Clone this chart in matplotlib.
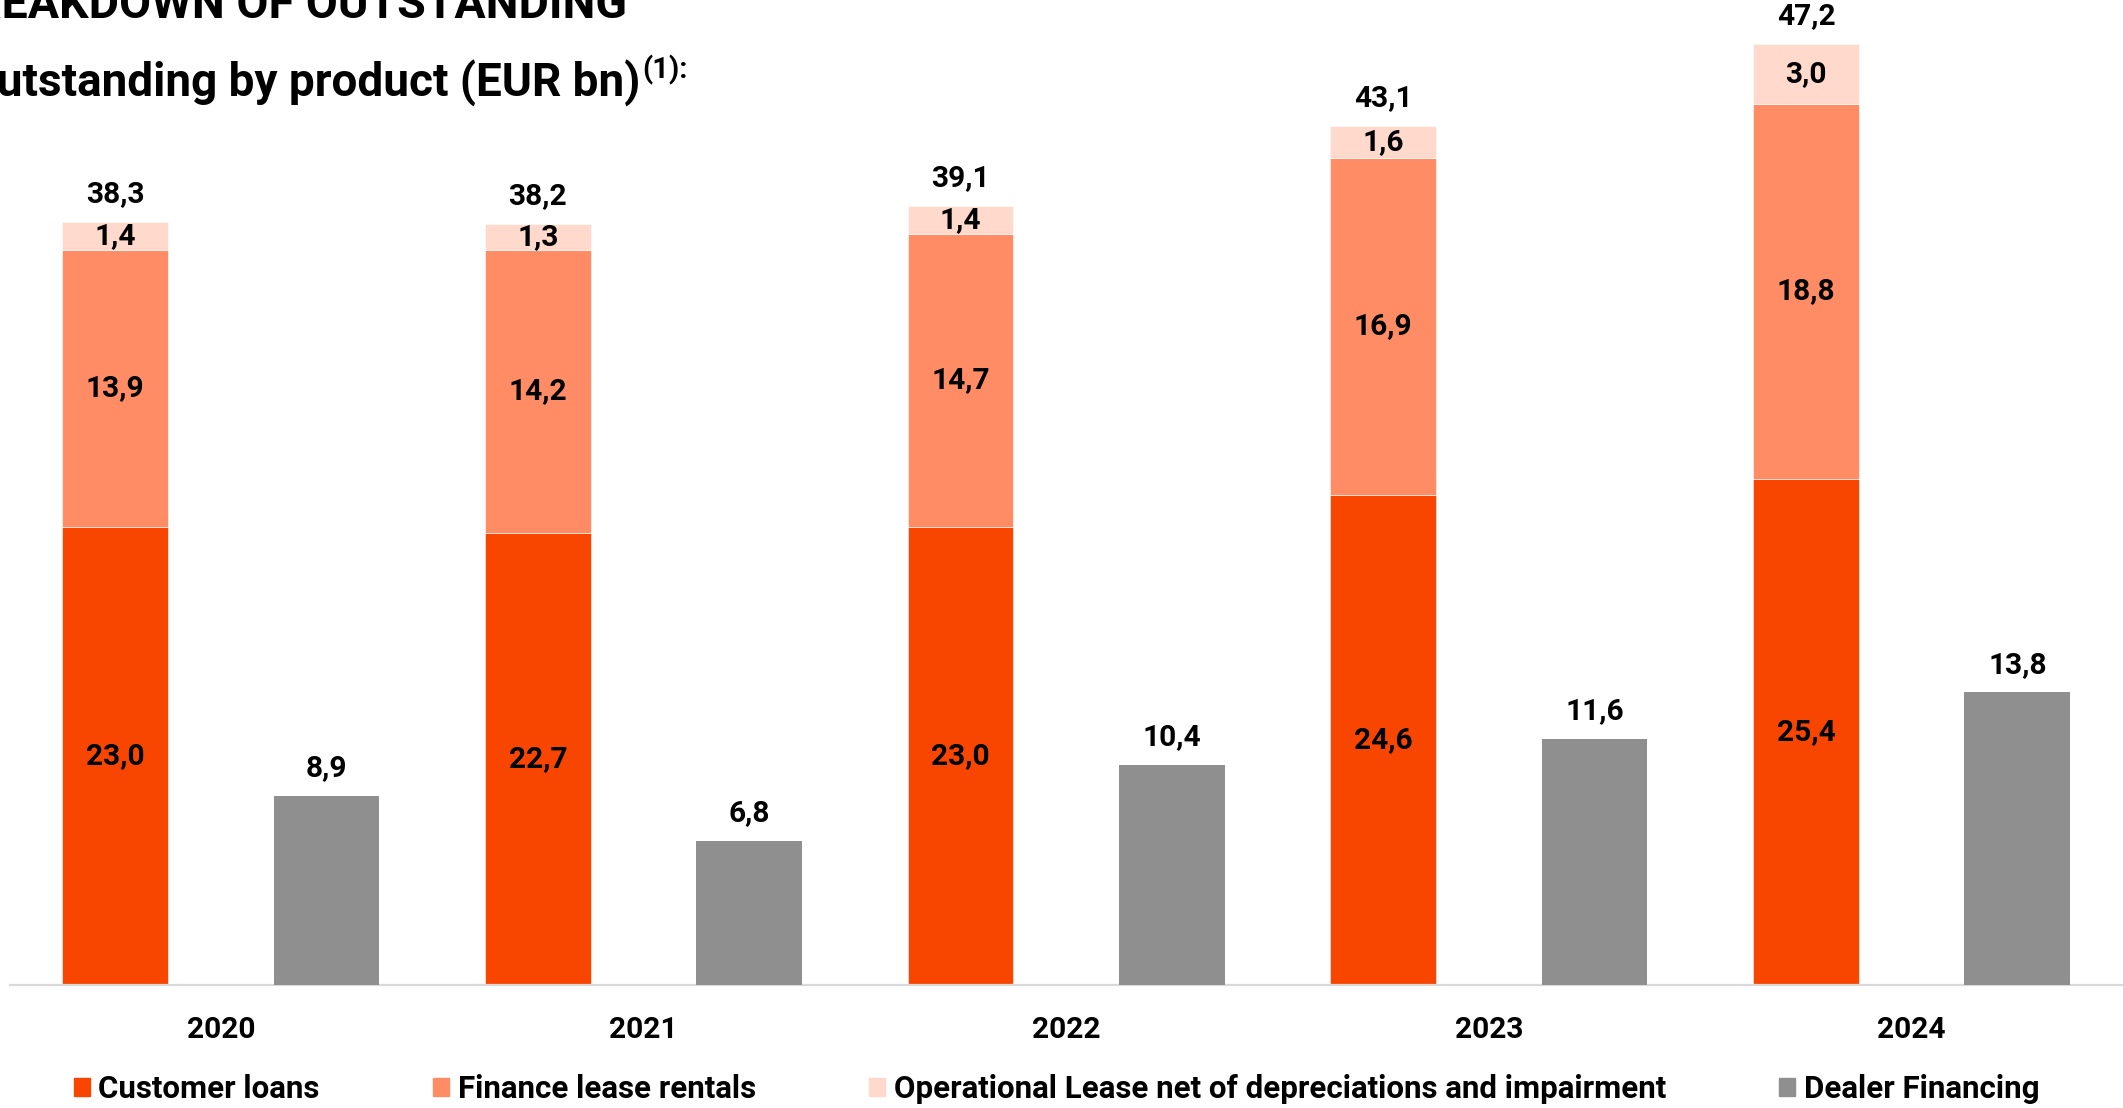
import matplotlib

matplotlib.use("Agg")
import matplotlib.pyplot as plt
import numpy as np
from matplotlib.patches import Patch

plt.rcParams["font.family"] = ["Roboto", "DejaVu Sans"]
plt.rcParams["font.weight"] = "bold"

YEARS = ["2020", "2021", "2022", "2023", "2024"]
CUSTOMER_LOANS = [23.0, 22.7, 23.0, 24.6, 25.4]
FINANCE_LEASE = [13.9, 14.2, 14.7, 16.9, 18.8]
OPERATIONAL_LEASE = [1.4, 1.3, 1.4, 1.6, 3.0]
DEALER_FINANCING = [8.9, 6.8, 10.4, 11.6, 13.8]

C_LOANS = "#F84600"
C_FINANCE = "#FF8C64"
C_OPLEASE = "#FFD9CC"
C_DEALER = "#8F8F8F"


def fmt(v):
    return f"{v:.1f}".replace(".", ",")


W, H = 2123, 1108
fig = plt.figure(figsize=(W / 100, H / 100), dpi=100)
ax = fig.add_axes([9.5 / W, 1 - 985 / H, 1 - 9.5 / W, 985 / H])
ax2 = ax.twinx()  # dealer financing sits on its own scale

x = np.arange(len(YEARS))
bw = 0.25
loans = np.array(CUSTOMER_LOANS)
fin = np.array(FINANCE_LEASE)
opl = np.array(OPERATIONAL_LEASE)
totals = loans + fin + opl

kw = dict(width=bw, edgecolor="white", linewidth=0.4)
ax.bar(x - bw, loans, color=C_LOANS, **kw)
ax.bar(x - bw, fin, bottom=loans, color=C_FINANCE, **kw)
ax.bar(x - bw, opl, bottom=loans + fin, color=C_OPLEASE, **kw)
ax2.bar(x + bw, DEALER_FINANCING, color=C_DEALER, width=bw, linewidth=0)

lab = dict(ha="center", va="center", fontsize=21.5, fontweight="bold", color="black")
for i in range(len(YEARS)):
    ax.text(x[i] - bw, loans[i] / 2, fmt(loans[i]), **lab)
    ax.text(x[i] - bw, loans[i] + fin[i] / 2, fmt(fin[i]), **lab)
    ax.text(x[i] - bw, loans[i] + fin[i] + opl[i] / 2, fmt(opl[i]), **lab)
    ax.annotate(fmt(totals[i]), (x[i] - bw, totals[i]), xytext=(0, 20),
                textcoords="offset points", **lab)
    ax2.annotate(fmt(DEALER_FINANCING[i]), (x[i] + bw, DEALER_FINANCING[i]),
                 xytext=(0, 20), textcoords="offset points", **lab)

ax.set_xlim(-0.5, 4.5)
ax.set_ylim(0, 985 / 19.93)
ax2.set_ylim(0, 985 / 21.2)

for a in (ax, ax2):
    for s in ("top", "right", "left"):
        a.spines[s].set_visible(False)
    a.set_yticks([])
ax.spines["bottom"].set_color("#D9D9D9")
ax.spines["bottom"].set_linewidth(1.6)
ax2.spines["bottom"].set_visible(False)
ax.set_xticks(x)
ax.set_xticklabels(YEARS, fontsize=21.5, fontweight="bold")
ax.tick_params(axis="x", length=0, pad=22)

handles = [Patch(color=C_LOANS), Patch(color=C_FINANCE),
           Patch(color=C_OPLEASE), Patch(color=C_DEALER)]
names = ["Customer loans", "Finance lease rentals",
         "Operational Lease net of depreciations and impairment", "Dealer Financing"]
fig.legend(handles, names, loc="center left", bbox_to_anchor=(74 / W, 1 - 1089 / H),
           ncol=4, frameon=False, fontsize=22.5, handlelength=0.52, handleheight=0.52,
           handletextpad=0.26, columnspacing=3.63, borderpad=0, borderaxespad=0)

# heading, partly cut off at the left edge
fig.text(627 / W, 1 - 18 / H, "BREAKDOWN OF OUTSTANDING", ha="right", va="baseline",
         fontsize=33.5, fontweight="bold")
fig.text(640 / W, 1 - 97 / H, "Outstanding by product (EUR bn)", ha="right",
         va="baseline", fontsize=33, fontweight="bold")
fig.text(642 / W, 1 - 78 / H, "(1):", ha="left", va="baseline", fontsize=21,
         fontweight="bold")

fig.savefig("out.png", dpi=100)
